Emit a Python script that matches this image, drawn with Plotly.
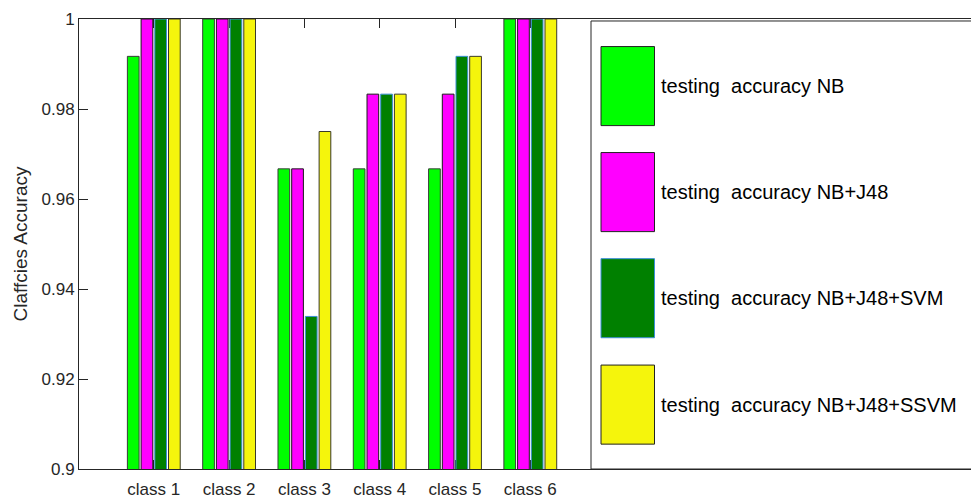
import plotly.graph_objects as go

categories = ["class 1", "class 2", "class 3", "class 4", "class 5", "class 6"]
nb = [0.9917, 1.0, 0.9667, 0.9667, 0.9667, 1.0]
nb_j48 = [1.0, 1.0, 0.9667, 0.9833, 0.9833, 1.0]
nb_j48_svm = [1.0, 1.0, 0.9339, 0.9833, 0.9917, 1.0]
nb_j48_ssvm = [1.0, 1.0, 0.975, 0.9833, 0.9917, 1.0]
series_names = ["testing\u00a0 accuracy NB", "testing\u00a0 accuracy NB+J48",
                "testing\u00a0 accuracy NB+J48+SVM", "testing\u00a0 accuracy NB+J48+SSVM"]
series_values = [nb, nb_j48, nb_j48_svm, nb_j48_ssvm]
fill_colors = ["#00ff00", "#ff00ff", "#008000", "#f5f50c"]
edge_colors = ["#3a3a3a", "#1a1a1a", "#3c8fd6", "#3a3a2a"]
y_ticks = [0.9, 0.92, 0.94, 0.96, 0.98, 1.0]
y_tick_text = ["0.9", "0.92", "0.94", "0.96", "0.98", "1"]

W, H = 971, 499
L, R, T, B = 79, 971, 19, 471.5
FONT = "Liberation Sans, Arial, sans-serif"


def px(x):
    return (x - L) / (R - L)


def py(y):
    return (B - y) / (B - T)


fig = go.Figure()
for name, vals, fc, ec in zip(series_names, series_values, fill_colors, edge_colors):
    fig.add_trace(go.Bar(x=categories, y=vals, name=name, marker=dict(color=fc, line=dict(color=ec, width=1)),
                         showlegend=False))

unit = 75.3
left_off = (153.8 - L) / unit
x_range = [-left_off, -left_off + (R - L) / unit]

shapes = []
annotations = []
# legend box
shapes.append(dict(type="rect", xref="paper", yref="paper", x0=px(591), x1=px(990), y0=py(471.5), y1=py(21),
                   fillcolor="white", line=dict(color="#262626", width=1), layer="above"))
patch_tops = [46.7, 153.3, 260.0, 367.0]
for top, fc, ec, name in zip(patch_tops, fill_colors, edge_colors, series_names):
    shapes.append(dict(type="rect", xref="paper", yref="paper", x0=px(601), x1=px(654.5), y0=py(top + 79.5), y1=py(top),
                       fillcolor=fc, line=dict(color=ec if fc == "#008000" else "#222222", width=1), layer="above"))
    annotations.append(dict(xref="paper", yref="paper", x=px(659), y=py(top + 40), xanchor="left", yanchor="middle",
                            text=name, showarrow=False, font=dict(family=FONT, size=20, color="#000000")))

fig.update_layout(
    width=W, height=H,
    margin=dict(l=L, r=W - R, t=T, b=H - B, pad=0),
    paper_bgcolor="white", plot_bgcolor="white",
    barmode="group", bargap=0.272, bargroupgap=0.146,
    font=dict(family=FONT, size=17, color="#262626"),
    shapes=shapes, annotations=annotations,
    xaxis=dict(range=x_range, showline=True, linecolor="#262626", linewidth=1, mirror="ticks",
               ticks="inside", ticklen=9, tickcolor="#262626", showgrid=False, zeroline=False,
               tickfont=dict(size=17, color="#262626"), layer="below traces", ticklabelstandoff=5),
    yaxis=dict(range=[0.9, 1.0], tickvals=y_ticks, ticktext=y_tick_text, showline=True, linecolor="#262626",
               linewidth=1, ticks="inside", ticklen=9, tickcolor="#262626", showgrid=False, zeroline=False,
               tickfont=dict(size=17, color="#262626"),
               title=dict(text="Claffcies Accuracy", font=dict(size=19, color="#262626"), standoff=8)),
)

fig.write_html("out.html", config={"displayModeBar": False},
               post_script="document.body.style.margin='0';document.body.style.padding='0';")
